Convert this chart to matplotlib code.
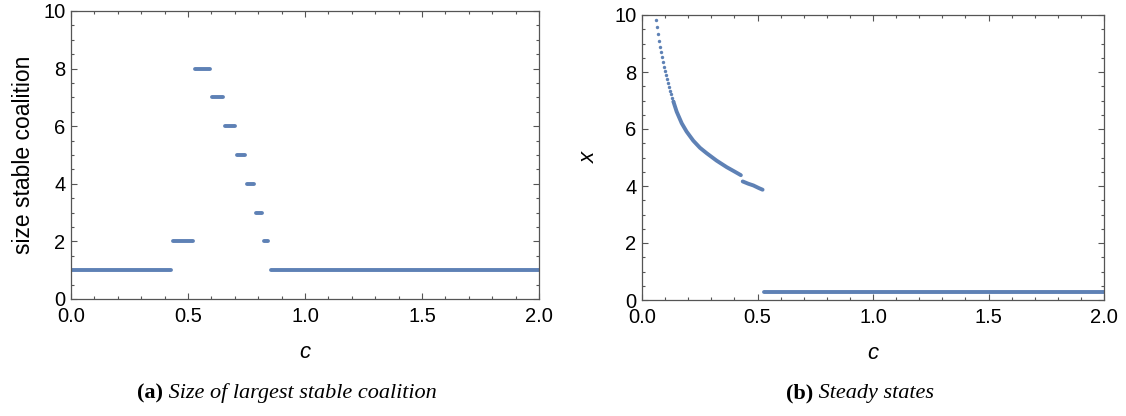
import matplotlib
matplotlib.use("Agg")
import matplotlib.pyplot as plt
from matplotlib.ticker import MultipleLocator

# ---------------- data ----------------
# (a) size of largest stable coalition: piecewise-constant segments
seg_level = [1, 2, 8, 7, 6, 5, 4, 3, 2, 1]
seg_start = [0.00, 0.438, 0.532, 0.603, 0.660, 0.708, 0.750, 0.789, 0.825, 0.853]
seg_end   = [0.429, 0.522, 0.594, 0.649, 0.699, 0.744, 0.780, 0.816, 0.844, 2.00]

# (b) steady states: sparse dots at the top of the first branch
c_dots = [0.061, 0.066, 0.071, 0.075, 0.079, 0.084, 0.088, 0.092, 0.097, 0.101,
          0.105, 0.110, 0.114, 0.118, 0.123, 0.127, 0.131, 0.136]
x_dots = [9.82, 9.57, 9.32, 9.10, 8.89, 8.69, 8.51, 8.34, 8.19, 8.04,
          7.88, 7.74, 7.60, 7.47, 7.34, 7.22, 7.10, 6.98]
# first branch (dense)
c_branch1 = [0.136, 0.150, 0.172, 0.193, 0.222, 0.251,
             0.280, 0.323, 0.367, 0.400, 0.428]
x_branch1 = [6.96, 6.61, 6.20, 5.91, 5.59, 5.34,
             5.15, 4.89, 4.66, 4.51, 4.38]
# second branch
c_branch2 = [0.436, 0.460, 0.482, 0.505, 0.522]
x_branch2 = [4.16, 4.08, 4.02, 3.93, 3.87]
# low steady state
c_low = [0.527, 2.0]
x_low = [0.28, 0.28]

xticks = [0.0, 0.5, 1.0, 1.5, 2.0]
yticks = [0, 2, 4, 6, 8, 10]

# ---------------- style ----------------
BLUE = "#5E81B5"
FRAME = "#555555"
SANS = ["Liberation Sans", "DejaVu Sans"]
SERIF = ["Liberation Serif", "DejaVu Serif"]
plt.rcParams["font.family"] = SANS

fig = plt.figure(figsize=(11.26, 4.16), dpi=100)
axA = fig.add_axes([71 / 1126, 1 - 299 / 416, 468 / 1126, 288 / 416])
axB = fig.add_axes([642 / 1126, 1 - 300 / 416, 462 / 1126, 285 / 416])


def style(ax):
    ax.set_xlim(0, 2)
    ax.set_ylim(0, 10)
    ax.set_xticks(xticks)
    ax.set_xticklabels([f"{t:.1f}" for t in xticks])
    ax.set_yticks(yticks)
    ax.set_yticklabels([str(t) for t in yticks])
    ax.xaxis.set_minor_locator(MultipleLocator(0.1))
    ax.yaxis.set_minor_locator(MultipleLocator(0.5))
    ax.tick_params(which="both", direction="in", top=True, right=True,
                   color=FRAME, width=0.8, labelsize=14.5, labelcolor="black")
    ax.tick_params(which="major", length=4, pad=4)
    ax.tick_params(which="minor", length=2.2)
    ax.tick_params(axis="x", which="major", pad=6)
    for s in ax.spines.values():
        s.set_color(FRAME)
        s.set_linewidth(0.9)
    ax.set_xlabel("c", fontsize=16, style="italic", labelpad=11)


style(axA)
style(axB)

# (a)
for lv, s, e in zip(seg_level, seg_start, seg_end):
    axA.plot([s, e], [lv, lv], color=BLUE, lw=2.8, solid_capstyle="round")
axA.set_ylabel("size stable coalition", fontsize=16.5, labelpad=6)

# (b)
axB.scatter(c_dots, x_dots, s=6, color=BLUE, linewidths=0, zorder=3)
axB.plot(c_branch1, x_branch1, color=BLUE, lw=2.8, solid_capstyle="round")
axB.plot(c_branch2, x_branch2, color=BLUE, lw=2.8, solid_capstyle="round")
axB.plot(c_low, x_low, color=BLUE, lw=2.8, solid_capstyle="round")
axB.set_ylabel("x", fontsize=16, style="italic", labelpad=10)

# captions
fig.canvas.draw()
renderer = fig.canvas.get_renderer()


def caption(xc, y, tag, text):
    t1 = fig.text(0, y, tag, fontsize=16, family=SERIF, weight="bold",
                  ha="left", va="baseline")
    t2 = fig.text(0, y, " " + text, fontsize=16, family=SERIF, style="italic",
                  ha="left", va="baseline")
    w1 = t1.get_window_extent(renderer).width
    w2 = t2.get_window_extent(renderer).width
    x0 = xc * 1126 - (w1 + w2) / 2
    t1.set_x(x0 / 1126)
    t2.set_x((x0 + w1) / 1126)


caption(287 / 1126, 1 - 398 / 416, "(a)", "Size of largest stable coalition")
caption(860 / 1126, 1 - 398 / 416, "(b)", "Steady states")

fig.savefig("out.png", dpi=100)
